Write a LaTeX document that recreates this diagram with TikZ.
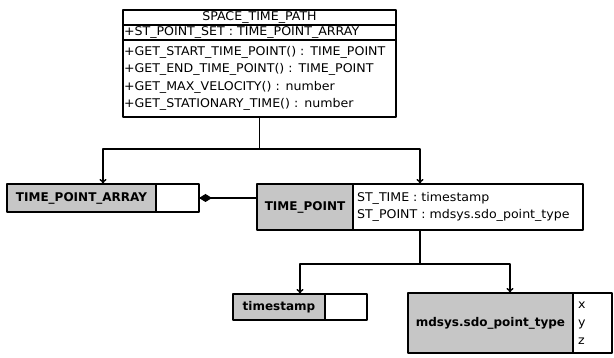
\documentclass[tikz,border=0pt]{standalone}
\usepackage{fontspec}
\setmainfont{DejaVu Sans}
\newfontfamily\widefont{DejaVu Sans}[FakeStretch=1.05]
\usetikzlibrary{arrows.meta,calc,positioning}

\tikzset{
  cls/.style={draw, line width=1.4pt, outer sep=0pt, inner xsep=2pt, inner ysep=0pt},
  shaded/.style={cls, fill=gray!45, font=\fontsize{12}{14}\selectfont\bfseries},
  plain/.style={cls, fill=white, align=left, font=\widefont\fontsize{12}{14}\selectfont},
  row/.style={plain, text width=271pt, inner xsep=1pt, text height=9pt, text depth=3pt, minimum height=15pt},
  link/.style={line width=1.4pt}
}

\begin{document}
\begin{tikzpicture}[x=1pt, y=-1pt, line cap=round, line join=round, >={To[length=5pt,width=7pt]}, font=\fontsize{12}{14}\selectfont]
  \useasboundingbox (0,0) rectangle (614,358);

  % classe SPACE_TIME_PATH
  \node[row, align=center] (title) at (259.5,17.5) {SPACE\_TIME\_PATH};
  \node[row] (attr) at (259.5,32.5) {+ST\_POINT\_SET : TIME\_POINT\_ARRAY};
  \node[plain, text width=271pt, inner xsep=1pt, minimum height=77pt, font=\widefont\fontsize{12}{17.5}\selectfont] (ops) at (259.5,78.5)
    {+GET\_START\_TIME\_POINT() : TIME\_POINT\\
     +GET\_END\_TIME\_POINT() : TIME\_POINT\\
     +GET\_MAX\_VELOCITY() : number\\
     +GET\_STATIONARY\_TIME() : number};

  % TIME_POINT_ARRAY
  \node[shaded, minimum width=149pt, minimum height=28pt] (tpaName) at (81.5,198) {TIME\_POINT\_ARRAY};
  \node[plain, minimum width=43pt, minimum height=28pt, right=0pt of tpaName] (tpaVal) {};

  % TIME_POINT
  \node[shaded, minimum width=96pt, minimum height=46pt] (tpName) at (305,207) {TIME\_POINT};
  \node[plain, inner xsep=4pt, text width=222pt, minimum height=46pt, font=\widefont\fontsize{12}{17}\selectfont, right=0pt of tpName] (tpVal)
    {ST\_TIME : timestamp\\ST\_POINT : mdsys.sdo\_point\_type};

  % timestamp
  \node[shaded, minimum width=92pt, minimum height=26pt] (tsName) at (279,307) {timestamp};
  \node[plain, minimum width=42pt, minimum height=26pt, right=0pt of tsName] (tsVal) {};

  % mdsys.sdo_point_type
  \node[shaded, minimum width=165pt, minimum height=60pt] (ptName) at (490.5,323) {mdsys.sdo\_point\_type};
  \node[plain, inner xsep=5pt, text width=29pt, minimum height=60pt, font=\widefont\fontsize{12}{18}\selectfont, right=0pt of ptName] (ptVal) {x\\y\\z};

  % points d'accroche
  \coordinate (tpaTop) at ($(tpaName.north west)!0.5!(tpaVal.north east)$);
  \coordinate (tpTop) at ($(tpName.north west)!0.5!(tpVal.north east)$);
  \coordinate (tpBot) at ($(tpName.south west)!0.5!(tpVal.south east)$);
  \coordinate (tsTop) at ($(tsName.north west)!0.5!(tsVal.north east)$);
  \coordinate (ptTop) at ($(ptName.north west)!0.5!(ptVal.north east)$);
  \coordinate (fork1) at ($(ops.south)+(0,32)$);
  \coordinate (fork2) at ($(tpBot)+(0,34)$);

  % liens
  \draw[link] (ops.south) -- (fork1);
  \draw[link, ->] (fork1) -| (tpaTop);
  \draw[link, ->] (fork1) -| (tpTop);
  \draw[link] (tpBot) -- (fork2);
  \draw[link, ->] (fork2) -| (tsTop);
  \draw[link, ->] (fork2) -| (ptTop);

  % composition
  \draw[link, {Diamond[length=13pt,width=8pt]}-] (tpaVal.east) -- (tpaVal.east -| tpName.west);
\end{tikzpicture}
\end{document}
